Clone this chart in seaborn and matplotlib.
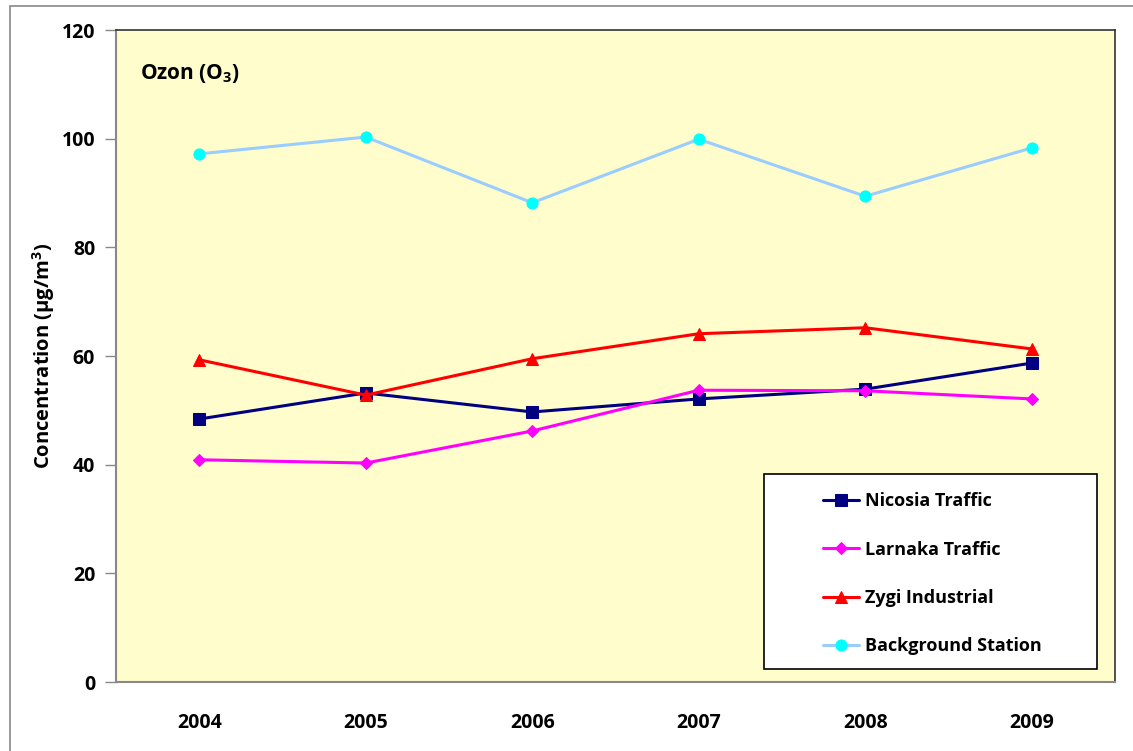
import matplotlib
matplotlib.use("Agg")
import matplotlib.pyplot as plt
from matplotlib.patches import Rectangle
import numpy as np
import pandas as pd
import seaborn as sns

years = ["2004", "2005", "2006", "2007", "2008", "2009"]
nicosia = [48.4, 53.2, 49.7, 52.1, 53.9, 58.7]
larnaka = [40.9, 40.3, 46.2, 53.7, 53.6, 52.1]
zygi = [59.3, 52.8, 59.5, 64.1, 65.2, 61.3]
background = [97.2, 100.3, 88.2, 99.9, 89.4, 98.3]

series = [
    ("Nicosia Traffic", nicosia, "#000080", "s", "#000080", 8),
    ("Larnaka Traffic", larnaka, "#FF00FF", "D", "#FF00FF", 6),
    ("Zygi Industrial", zygi, "#FF0000", "^", "#FF0000", 8),
    ("Background Station", background, "#99CCFF", "o", "#00FFFF", 8),
]

FONT = "Open Sans"

sns.set_style("white")
plt.rcParams["font.family"] = [FONT, "DejaVu Sans"]
plt.rcParams["font.weight"] = "bold"
plt.rcParams["text.color"] = "black"
plt.rcParams["axes.labelcolor"] = "black"
plt.rcParams["mathtext.fontset"] = "custom"
plt.rcParams["mathtext.rm"] = FONT + ":bold"
plt.rcParams["mathtext.it"] = FONT + ":bold"
plt.rcParams["mathtext.bf"] = FONT + ":bold"
plt.rcParams["mathtext.default"] = "regular"

fig = plt.figure(figsize=(11.33, 7.51), dpi=100)
fig.patches.append(Rectangle((10 / 1133, -0.1), 1.2, 0.1 + 745 / 751, transform=fig.transFigure,
                             fill=False, edgecolor="#888888", linewidth=1.2))
ax = fig.add_axes([116 / 1133, 69 / 751, 999 / 1133, 652 / 751])
ax.set_facecolor("#FFFDCC")

for name, vals, color, marker, mcolor, ms in series:
    df = pd.DataFrame({"year": years, "value": vals})
    sns.lineplot(data=df, x="year", y="value", ax=ax, color=color, linewidth=2.2,
                 marker=marker, markersize=ms, markerfacecolor=mcolor,
                 markeredgecolor=mcolor, label=name)

ax.set_xlim(-0.5, 5.5)
ax.set_ylim(0, 120)
ax.set_yticks(np.arange(0, 121, 20))
ax.set_xticks(range(len(years)))
ax.set_xticklabels(years)
ax.set_xticks(np.arange(-0.5, 6, 1), minor=True)
ax.tick_params(axis="x", which="major", length=0, pad=22, labelsize=14, labelcolor="black")
ax.tick_params(axis="x", which="minor", length=7, color="#888888", width=1)
ax.tick_params(axis="y", length=8, color="#888888", width=1, pad=7, labelsize=14,
               labelcolor="black", left=True)
for lbl in ax.get_xticklabels() + ax.get_yticklabels():
    lbl.set_fontweight("bold")

for side in ["left", "bottom"]:
    ax.spines[side].set_color("#888888")
    ax.spines[side].set_linewidth(1.5)
for side in ["top", "right"]:
    ax.spines[side].set_color("#333333")
    ax.spines[side].set_linewidth(1.2)

ax.set_xlabel("")
ax.set_ylabel("Concentration (µg/m$^3$)", fontsize=14.5, fontweight="bold", labelpad=3)
ax.text(0.024, 0.934, "Ozon (O$_3$)", transform=ax.transAxes, fontsize=15,
        fontweight="bold", va="center", ha="left")

# legend frame drawn separately so entries can sit inset like the reference
ax.add_patch(Rectangle((0.6486, 0.02), 0.333, 0.299, transform=ax.transAxes,
                       facecolor="white", edgecolor="black", linewidth=1.2, zorder=4))
leg = ax.legend(loc="upper left", bbox_to_anchor=(0.7077, 0.291), frameon=False,
                prop={"size": 13, "weight": "bold"}, labelspacing=1.68,
                handlelength=2.0, handletextpad=0.3, borderpad=0, borderaxespad=0)
leg.set_zorder(5)

fig.savefig("out.png", dpi=100)
